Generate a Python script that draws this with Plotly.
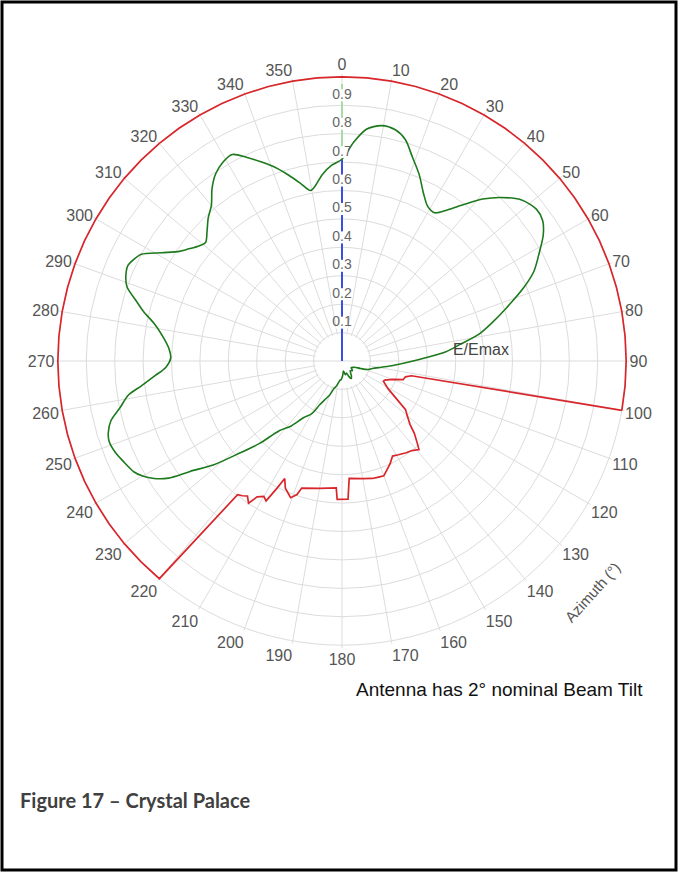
import plotly.graph_objects as go

# angular ticks (azimuth, degrees) and radial ticks (E/Emax)
AZ_TICKS = list(range(0, 360, 10))
RADIAL_TICKS = [0.1, 0.2, 0.3, 0.4, 0.5, 0.6, 0.7, 0.8, 0.9]

# horizontal radiation pattern
EMAX_AZ = [0, 3, 6, 9.5, 13, 16, 19, 22.5, 26, 29, 32, 35, 38, 41, 44, 48, 52, 55, 58, 61,
           65, 68, 72, 76, 79, 82, 85, 90, 95, 99, 104, 108, 112, 116, 120, 126, 133, 140,
           147, 152, 156, 160, 166, 172, 177, 182, 187, 192, 196, 200, 204, 207, 210, 214,
           218, 222, 225, 228, 231, 234, 236, 238, 240, 242, 245, 248, 251, 253, 255.5,
           258, 261, 263, 265.5, 268, 271, 274, 277, 281, 284, 286, 289, 291, 294, 296,
           298, 301, 304, 306, 309, 311, 314, 317, 320, 323, 326, 329, 332, 335, 338, 341,
           344, 347, 349.5, 351, 354, 357, 360]
EMAX_R = [0.71, 0.77, 0.82, 0.84, 0.835, 0.81, 0.76, 0.71, 0.655, 0.622, 0.615, 0.65, 0.70,
          0.755, 0.80, 0.848, 0.868, 0.862, 0.835, 0.795, 0.745, 0.69, 0.61, 0.54, 0.49,
          0.42, 0.365, 0.25, 0.18, 0.14, 0.11, 0.097, 0.07, 0.05, 0.045, 0.04, 0.05, 0.045,
          0.06, 0.07, 0.06, 0.045, 0.05, 0.036, 0.05, 0.064, 0.07, 0.089, 0.10, 0.128, 0.15,
          0.173, 0.215, 0.24, 0.29, 0.33, 0.41, 0.484, 0.58, 0.661, 0.737, 0.78, 0.81, 0.83,
          0.845, 0.86, 0.867, 0.86, 0.84, 0.80, 0.76, 0.71, 0.66, 0.62, 0.603, 0.61, 0.63,
          0.67, 0.72, 0.75, 0.80, 0.815, 0.825, 0.815, 0.80, 0.74, 0.69, 0.67, 0.645, 0.636,
          0.66, 0.69, 0.715, 0.76, 0.795, 0.815, 0.823, 0.79, 0.755, 0.72, 0.68, 0.64, 0.61,
          0.62, 0.66, 0.69, 0.71]

# restriction mask: stepped sector 100..220, full (1.0) elsewhere
LIMIT_AZ = [100, 102, 104, 107, 110, 114, 116, 121, 125, 127.5, 130, 133, 135, 137.5, 139,
            142, 145, 149, 152, 155, 158.5, 160, 163, 165.5, 170, 176.5, 177.5, 182, 182.6,
            190, 197.6, 198.6, 200.6, 204, 206, 207, 208.5, 210, 212, 213.3, 215, 216.5,
            218, 220]
LIMIT_R = [1.0, 0.25, 0.23, 0.225, 0.19, 0.165, 0.162, 0.189, 0.237, 0.282, 0.30, 0.327,
           0.36, 0.392, 0.413, 0.40, 0.394, 0.385, 0.379, 0.40, 0.42, 0.43, 0.428, 0.427,
           0.42, 0.414, 0.487, 0.487, 0.447, 0.455, 0.469, 0.496, 0.514, 0.49, 0.46, 0.5,
           0.56, 0.55, 0.564, 0.599, 0.58, 0.59, 0.597, 1.0]
OPEN_AZ = [a % 360 for a in range(225, 465, 5)]

GRID = '#dcdcdc'
TXT = '#555555'
FONT = 'Liberation Sans, Arial'

fig = go.Figure()

# blank the centre like the original (spokes start at r=0.1)
fig.add_trace(go.Scatterpolar(
    r=[0.095] * (len(AZ_TICKS) + 1), theta=AZ_TICKS + [0],
    mode='lines', fill='toself', fillcolor='white', line=dict(width=0),
    hoverinfo='skip', showlegend=False))
fig.add_trace(go.Scatterpolar(
    r=[0.1, 0, 0.1], theta=[270, 270, 90], mode='lines',
    line=dict(color=GRID, width=1), hoverinfo='skip', showlegend=False))

# main-beam direction marker
fig.add_trace(go.Scatterpolar(
    r=[0, 0.71], theta=[0, 0], mode='lines',
    line=dict(color='#3b4fe0', width=2), showlegend=False))
fig.add_trace(go.Scatterpolar(
    r=[0.71, 0.975], theta=[0, 0], mode='lines',
    line=dict(color='#a6dca6', width=2), showlegend=False))

# restriction mask
fig.add_trace(go.Scatterpolar(
    r=LIMIT_R + [1.0] * len(OPEN_AZ), theta=LIMIT_AZ + OPEN_AZ, mode='lines',
    line=dict(color='#d8262b', width=1.7), showlegend=False))

# E/Emax
fig.add_trace(go.Scatterpolar(
    r=EMAX_R, theta=EMAX_AZ, mode='lines',
    line=dict(color='#1c7a1c', width=1.6, shape='spline', smoothing=0.8),
    showlegend=False))

# radial tick labels on the 0 deg spoke, with white box
fig.add_trace(go.Scatterpolar(
    r=[v + 0.035 for v in RADIAL_TICKS], theta=[0] * len(RADIAL_TICKS),
    mode='markers+text', text=[f'{v:.1f}' for v in RADIAL_TICKS],
    textposition='middle center',
    marker=dict(symbol='square', size=12, color='white'),
    textfont=dict(family=FONT, size=14, color='#666666'),
    hoverinfo='skip', showlegend=False))

fig.add_trace(go.Scatterpolar(
    r=[0.49], theta=[86], mode='text', text=['E/Emax'],
    textfont=dict(family=FONT, size=16, color='#444444'),
    hoverinfo='skip', showlegend=False))

R = 287
cx, cy = 342, 361
W, H = 678, 872

fig.update_layout(
    width=W, height=H,
    margin=dict(l=0, r=0, t=0, b=0),
    paper_bgcolor='white',
    showlegend=False,
    polar=dict(
        domain=dict(x=[(cx - R) / W, (cx + R) / W], y=[1 - (cy + R) / H, 1 - (cy - R) / H]),
        bgcolor='white',
        angularaxis=dict(
            rotation=90, direction='clockwise',
            tickmode='array', tickvals=AZ_TICKS, ticktext=[str(a) for a in AZ_TICKS],
            ticks='', showline=False,
            gridcolor=GRID, gridwidth=1,
            tickfont=dict(family=FONT, size=16, color=TXT)),
        radialaxis=dict(
            range=[0, 1.01], tickvals=RADIAL_TICKS + [1.0], showticklabels=False,
            showline=False, ticks='', gridcolor=GRID, gridwidth=1),
    ),
    annotations=[
        dict(text='Azimuth (°)', x=592 / W, y=1 - 592 / H, xref='paper', yref='paper',
             xanchor='center', yanchor='middle', showarrow=False, textangle=-48,
             font=dict(family=FONT, size=15, color=TXT)),
        dict(text='Antenna has 2° nominal Beam Tilt', x=499 / W, y=1 - 689 / H,
             xref='paper', yref='paper', xanchor='center', yanchor='middle',
             showarrow=False, font=dict(family=FONT, size=19, color='#111111')),
        dict(text='<b>Figure 17 – Crystal Palace</b>', x=18 / W, y=1 - 800 / H,
             xref='paper', yref='paper', xanchor='left', yanchor='middle',
             showarrow=False, font=dict(family='Lato, Open Sans', size=20, color='#404040')),
    ],
    shapes=[
        dict(type='rect', xref='paper', yref='paper',
             x0=2 / W, x1=676 / W, y0=2 / H, y1=870 / H,
             line=dict(color='black', width=3)),
    ],
)

fig.write_html('out.html', config={'displayModeBar': False},
               post_script="document.body.style.margin='0';document.body.style.overflow='hidden';")
